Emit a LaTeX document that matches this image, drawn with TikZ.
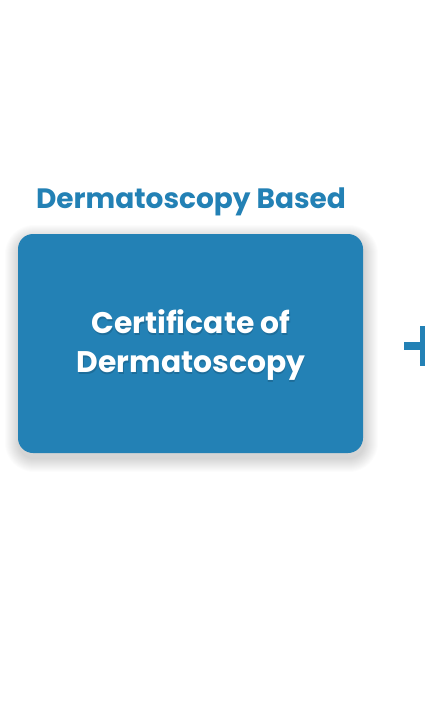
\documentclass[tikz,border=0pt]{standalone}
\usepackage{fontspec}
\setmainfont{Poppins}
\definecolor{dermblue}{RGB}{35,129,181}
\tikzset{
  cardbox/.style={fill=dermblue, rounded corners=15pt, minimum width=345pt, minimum height=219pt, inner sep=0pt},
  cardtext/.style={text=white, font=\fontsize{29.8}{39}\selectfont\bfseries, align=center, inner sep=0pt},
  shadowtext/.style={text=black, font=\fontsize{29.8}{39}\selectfont\bfseries, align=center, inner sep=0pt, text opacity=0.15},
  titletext/.style={text=dermblue, font=\fontsize{28}{32}\selectfont\bfseries, inner sep=0pt, anchor=base},
  plusbar/.style={fill=dermblue, draw=none}
}
\begin{document}
\begin{tikzpicture}[x=1pt,y=-1pt]
\useasboundingbox (0,0) rectangle (424,703);
\fill[white] (0,0) rectangle (424,703);
\node[titletext] (title) at (191,208) {Dermatoscopy Based};
% soft shadow of the card
\foreach \r in {1,...,14}{
  \fill[black, fill opacity=0.011, rounded corners={15pt+\r*1pt}]
    ({18-\r+1},{234-\r+5}) rectangle ({363+\r+1},{453+\r+5});
}
\node[cardbox] (card) at (190.5,343.5) {};
\node[shadowtext] (labelshadow) at (191.5,347.5) {Certificate of\\Dermatoscopy};
\node[cardtext] (label) at (191,345) {Certificate of\\Dermatoscopy};
\fill[plusbar] (404,342) rectangle (444,350);
\fill[plusbar] (420,326) rectangle (428,366);
\end{tikzpicture}
\end{document}
